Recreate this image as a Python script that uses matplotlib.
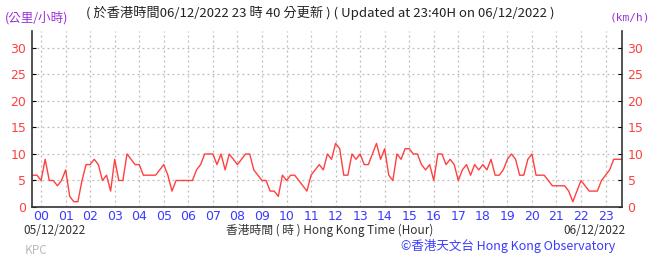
import numpy as np
import matplotlib
matplotlib.use("Agg")
import matplotlib.pyplot as plt

plt.rcParams['font.family'] = ['Noto Sans CJK TC', 'DejaVu Sans']

# 10-minute mean wind speed (km/h), every 10 min from 05/12 23:40 to 06/12 23:40
start_hour = -20 / 60
step_hour = 10 / 60
wind = [6, 6, 5, 9, 5, 5, 4, 5, 7, 2, 1, 1, 5, 8, 8, 9, 8, 5, 6, 3,
        9, 5, 5, 10, 9, 8, 8, 6, 6, 6, 6, 7, 8, 6, 3, 5, 5, 5, 5, 5,
        7, 8, 10, 10, 10, 8, 10, 7, 10, 9, 8, 9, 10, 10, 7, 6, 5, 5, 3, 3,
        2, 6, 5, 6, 6, 5, 4, 3, 6, 7, 8, 7, 10, 9, 12, 11, 6, 6, 10, 9,
        10, 8, 8, 10, 12, 9, 11, 6, 5, 10, 9, 11, 11, 10, 10, 8, 7, 8, 5, 10,
        10, 8, 9, 8, 5, 7, 8, 6, 8, 7, 8, 7, 9, 6, 6, 7, 9, 10, 9, 6,
        6, 9, 10, 6, 6, 6, 5, 4, 4, 4, 4, 3, 1, 3, 5, 4, 3, 3, 3, 5,
        6, 7, 9, 9, 9]
hours = start_hour + step_hour * np.arange(len(wind))

hour_labels = ["%02d" % h for h in range(24)]
yticks = [0, 5, 10, 15, 20, 25, 30]

red = "#ff4040"
blue = "#3b3bff"
purple = "#9b30d9"

fig = plt.figure(figsize=(6.56, 2.61), dpi=100)
ax = fig.add_axes([32 / 656, 1 - 207 / 261, 590 / 656, 176 / 261])

ax.plot(hours, wind, color=red, lw=1.0)

ax.set_xlim(-0.37, 23.67)
ax.set_ylim(0, 33.2)
ax.set_xticks(range(24))
ax.set_xticklabels(hour_labels, color=blue, fontsize=9, family="DejaVu Sans")
ax.set_yticks(yticks)
ax.set_yticklabels([str(v) for v in yticks], color=red, fontsize=9, family="DejaVu Sans")
ax.tick_params(axis="y", which="both", left=True, right=True, labelright=True,
               direction="in", length=3, pad=4)
ax.tick_params(axis="x", length=0, pad=2)
ax.grid(True, color="#bbbbbb", ls=(0, (1.5, 2.5)), lw=0.9)

ax.spines["top"].set_visible(False)
for s in ["left", "right", "bottom"]:
    ax.spines[s].set_color("#333333")
    ax.spines[s].set_linewidth(1.2)

fig.text(5 / 656, 1 - 18 / 261, "(公里/小時)", color=purple, fontsize=9, va="center")
fig.text(320 / 656, 1 - 13 / 261,
         "( 於香港時間06/12/2022 23 時 40 分更新 ) ( Updated at 23:40H on 06/12/2022 )",
         color="#222222", fontsize=9.5, ha="center", va="center")
fig.text(650 / 656, 1 - 18 / 261, "(km/h)", color=purple, fontsize=8, ha="right",
         va="center", family="DejaVu Sans Mono")
fig.text(23 / 656, 1 - 230 / 261, "05/12/2022", color="#333333", fontsize=8.5, va="center")
fig.text(330 / 656, 1 - 230 / 261, "香港時間 ( 時 ) Hong Kong Time (Hour)",
         color="#333333", fontsize=8.5, ha="center", va="center")
fig.text(625 / 656, 1 - 230 / 261, "06/12/2022", color="#333333", fontsize=8.5,
         ha="right", va="center")
fig.text(25 / 656, 1 - 251 / 261, "KPC", color="#bbbbbb", fontsize=8.5, va="center")
fig.text(615 / 656, 1 - 246 / 261, "©香港天文台 Hong Kong Observatory", color=blue,
         fontsize=9, ha="right", va="center")

fig.savefig("out.png", dpi=100)
